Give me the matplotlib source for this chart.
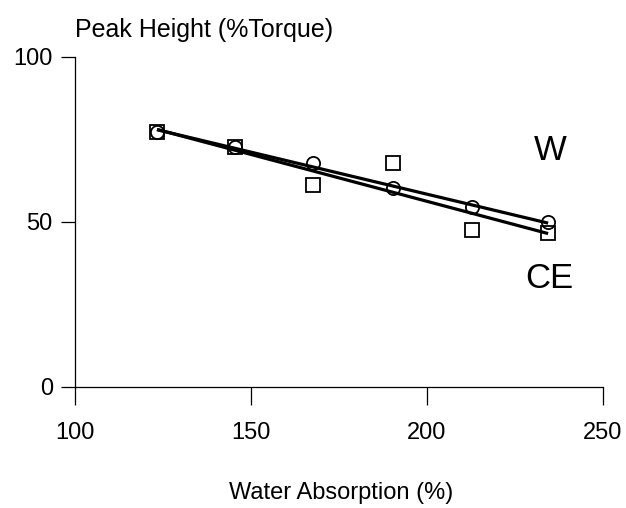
import numpy as np
import matplotlib
matplotlib.use("Agg")
import matplotlib.pyplot as plt

plt.rcParams['font.family'] = ['Liberation Sans', 'DejaVu Sans']

# Data
water_abs = [123.3, 145.5, 167.6, 190.3, 212.8, 234.4]
peak_W = [77.3, 72.7, 67.9, 60.3, 54.5, 50.0]
peak_CE = [77.3, 72.7, 61.2, 67.9, 47.6, 46.7]
xticks = [100, 150, 200, 250]
yticks = [0, 50, 100]

fig = plt.figure(figsize=(6.26, 5.08), dpi=100)
ax = fig.add_axes([0.1198, 0.2382, 0.8435, 0.6496])

x = np.array(water_abs)
for ys in (peak_W, peak_CE):
    m, b = np.polyfit(x, np.array(ys), 1)
    ax.plot([x.min(), x.max()], [m * x.min() + b, m * x.max() + b],
            color='black', lw=2.3, solid_capstyle='butt', zorder=3)

ax.plot(water_abs, peak_W, linestyle='none', marker='o', markersize=9.5,
        markerfacecolor='none', markeredgecolor='black', markeredgewidth=1.3, zorder=4)
ax.plot(water_abs, peak_CE, linestyle='none', marker='s', markersize=9.5,
        markerfacecolor='none', markeredgecolor='black', markeredgewidth=1.3, zorder=4)

ax.text(234.9, 71.8, 'W', fontsize=25, ha='center', va='center')
ax.text(234.7, 33.0, 'CE', fontsize=25, ha='center', va='center')

ax.set_xlim(100, 250)
ax.set_ylim(0, 100)
ax.set_xticks(xticks)
ax.set_yticks(yticks)
ax.tick_params(axis='x', direction='out', length=13, width=0.9, pad=12, labelsize=17)
ax.tick_params(axis='y', direction='out', length=10, width=0.9, pad=6, labelsize=17)

for s in ('top', 'right'):
    ax.spines[s].set_visible(False)
for s in ('left', 'bottom'):
    ax.spines[s].set_linewidth(0.9)

fig.text(75 / 626, 1 - 30 / 508, 'Peak Height (%Torque)', fontsize=18,
         ha='left', va='center')
fig.text(341 / 626, 1 - 493 / 508, 'Water Absorption (%)', fontsize=17,
         ha='center', va='center')

fig.savefig('out.png', dpi=100)
